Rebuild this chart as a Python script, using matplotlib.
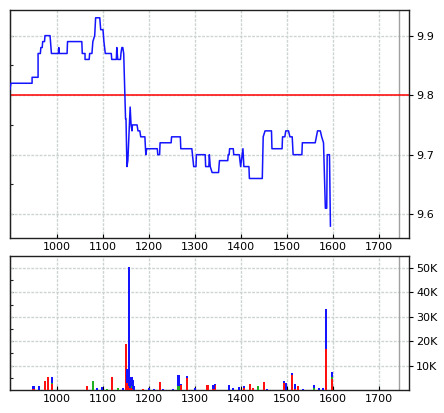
import numpy as np
import matplotlib.pyplot as plt
from matplotlib.ticker import FixedLocator, FuncFormatter, NullFormatter

# Price line (time, price), stepped
price_t = [898, 900, 946, 946, 959, 959, 964, 965, 968, 969, 973, 974, 985, 988,
           1003, 1004, 1005, 1022, 1023, 1054, 1055, 1061, 1061, 1070, 1071, 1076,
           1078, 1082, 1084, 1093, 1095, 1100, 1102, 1105, 1118, 1119, 1129, 1130,
           1132, 1138, 1139, 1141, 1143, 1145, 1149, 1150, 1152, 1154, 1159, 1161,
           1163, 1164, 1174, 1176, 1180, 1182, 1191, 1193, 1195, 1218, 1219, 1223,
           1224, 1248, 1249, 1268, 1269, 1293, 1297, 1302, 1303, 1322, 1323, 1330,
           1331, 1333, 1337, 1351, 1353, 1371, 1372, 1374, 1375, 1383, 1384, 1396,
           1399, 1404, 1406, 1417, 1418, 1446, 1448, 1452, 1466, 1467, 1489, 1490,
           1495, 1497, 1503, 1506, 1511, 1513, 1532, 1533, 1561, 1566, 1572, 1575,
           1579, 1583, 1586, 1587, 1592, 1594]
price_v = [9.81, 9.82, 9.82, 9.83, 9.83, 9.87, 9.87, 9.88, 9.88, 9.89, 9.89, 9.90, 9.90, 9.87,
           9.87, 9.88, 9.87, 9.87, 9.89, 9.89, 9.87, 9.87, 9.86, 9.86, 9.87, 9.87,
           9.89, 9.90, 9.93, 9.93, 9.91, 9.91, 9.89, 9.87, 9.87, 9.86, 9.86, 9.88,
           9.86, 9.86, 9.87, 9.88, 9.88, 9.87, 9.76, 9.76, 9.68, 9.69, 9.78, 9.75,
           9.74, 9.75, 9.75, 9.74, 9.74, 9.73, 9.73, 9.70, 9.71, 9.71, 9.70, 9.70,
           9.72, 9.72, 9.73, 9.73, 9.71, 9.71, 9.68, 9.68, 9.70, 9.70, 9.68, 9.68,
           9.70, 9.68, 9.67, 9.67, 9.69, 9.69, 9.70, 9.70, 9.71, 9.71, 9.70, 9.70,
           9.68, 9.71, 9.68, 9.68, 9.66, 9.66, 9.73, 9.74, 9.74, 9.71, 9.71, 9.73,
           9.73, 9.74, 9.74, 9.73, 9.73, 9.70, 9.70, 9.72, 9.72, 9.74, 9.74, 9.73,
           9.72, 9.61, 9.61, 9.70, 9.70, 9.58]
ref_price = 9.8

# Volume bars (stacked red / green / blue)
vol_t = [949, 962, 975, 981, 990, 1065, 1079, 1088, 1097, 1108, 1119, 1133, 1143,
         1150, 1153, 1156, 1159, 1162, 1165, 1168, 1187, 1199, 1211, 1223, 1230,
         1253, 1264, 1270, 1283, 1300, 1327, 1340, 1343, 1374, 1383, 1396, 1407,
         1419, 1425, 1437, 1450, 1456, 1493, 1498, 1510, 1518, 1523, 1535, 1558,
         1570, 1577, 1585, 1597]
vol_r = [500, 0, 3600, 5200, 2400, 1800, 0, 0, 0, 0, 5200, 0, 0,
         19000, 3000, 1500, 1000, 1000, 500, 0, 500, 0, 0, 3200, 0,
         0, 0, 2000, 4800, 0, 2200, 500, 2000, 0, 0, 0, 1000,
         2500, 800, 0, 3200, 0, 2800, 0, 6000, 500, 1800, 0, 0,
         0, 0, 17000, 4500]
vol_g = [0, 0, 0, 0, 500, 0, 3600, 0, 0, 500, 0, 800, 0,
         0, 0, 0, 0, 500, 0, 0, 0, 0, 0, 0, 0,
         0, 1500, 0, 0, 0, 0, 0, 0, 0, 0, 0, 0,
         0, 0, 1500, 0, 0, 0, 0, 0, 0, 0, 0, 800,
         0, 0, 0, 1000]
vol_b = [1300, 1800, 0, 0, 2500, 0, 0, 800, 1200, 0, 0, 0, 800,
         0, 5500, 49000, 1500, 4000, 3500, 1800, 0, 1000, 500, 0, 500,
         500, 4700, 500, 800, 1000, 0, 1500, 500, 2200, 800, 1200, 800,
         0, 0, 0, 0, 500, 800, 3000, 1000, 2000, 0, 500, 1400,
         800, 800, 16000, 2000]

x_ticks = [1000, 1100, 1200, 1300, 1400, 1500, 1600, 1700]
now_t = 1743

fig = plt.figure(figsize=(4.44, 4.13), dpi=100)
ax1 = fig.add_axes([0.0225, 0.4237, 0.899, 0.552])
ax2 = fig.add_axes([0.0225, 0.0557, 0.899, 0.325])

grid_kw = dict(color='#ccd4d2', linestyle=(0, (2, 1)), linewidth=1.0)

for ax in (ax1, ax2):
    ax.set_xlim(898, 1765)
    ax.xaxis.set_major_locator(FixedLocator(x_ticks))
    ax.grid(True, **grid_kw)
    ax.set_axisbelow(True)
    ax.axvline(now_t, color='#a0a0a0', linewidth=1.0, zorder=1)
    ax.yaxis.tick_right()
    ax.tick_params(axis='x', direction='in', length=3, labelsize=8, pad=3)
    ax.tick_params(axis='y', which='major', direction='out', length=3, labelsize=8, pad=2)
    for s in ax.spines.values():
        s.set_color('#202020')
        s.set_linewidth(1.0)

# Price panel
ax1.plot(price_t, price_v, color='#1414ff', linewidth=1.1, zorder=3)
ax1.axhline(ref_price, color='#ff0000', linewidth=1.1, zorder=2)
ax1.set_ylim(9.56, 9.943)
ax1.yaxis.set_major_locator(FixedLocator([9.6, 9.7, 9.8, 9.9]))
ax1.yaxis.set_major_formatter(FuncFormatter(lambda v, p: f"{v:.1f}"))

# Volume panel
r = np.array(vol_r)
g = np.array(vol_g)
b = np.array(vol_b)
ax2.bar(vol_t, r, width=4.5, color='#ff1010', zorder=3)
ax2.bar(vol_t, g, width=4.5, bottom=r, color='#20b020', zorder=3)
ax2.bar(vol_t, b, width=4.5, bottom=r + g, color='#1414ff', zorder=3)
ax2.set_ylim(0, 55000)
ax2.yaxis.set_major_locator(FixedLocator([10000, 20000, 30000, 40000, 50000]))
ax2.yaxis.set_major_formatter(FuncFormatter(lambda v, p: f"{int(v / 1000)}K"))

# inward ticks on the left edge
left1 = ax1.secondary_yaxis('left')
left1.yaxis.set_major_locator(FixedLocator([9.6, 9.65, 9.7, 9.75, 9.8, 9.85, 9.9]))
left2 = ax2.secondary_yaxis('left')
left2.yaxis.set_major_locator(FixedLocator(np.arange(5000, 55000, 5000)))
for sec in (left1, left2):
    sec.yaxis.set_major_formatter(NullFormatter())
    sec.tick_params(direction='in', length=2.5, color='#202020')
    sec.spines['left'].set_color('#202020')

fig.savefig("out.png", dpi=100)
